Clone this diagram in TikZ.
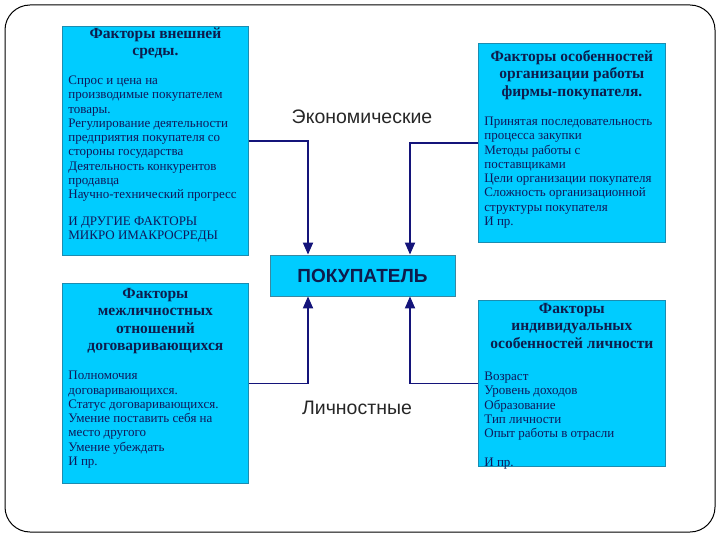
\documentclass[tikz,border=0pt]{standalone}
\usepackage{fontspec}
\setmainfont{Liberation Serif}
\newfontfamily\arialf{Liberation Sans}
\usetikzlibrary{arrows.meta}
\definecolor{boxfill}{HTML}{00CCFF}
\definecolor{boxline}{HTML}{1C8CB0}
\definecolor{txtc}{HTML}{0E1C4C}
\definecolor{bodyc}{HTML}{10185A}
\definecolor{arrc}{HTML}{14147A}
\newcommand{\titlef}{\fontsize{15.5}{17.4}\selectfont\bfseries}
\newcommand{\bodyf}{\fontsize{13}{14.25}\selectfont\mdseries\color{bodyc}}
\newcommand{\factbox}[5]{\parbox[t][#2][t]{#1}{\vspace*{#5}\centering\titlef #3\par\vspace{15pt}\raggedright\bodyf #4\par}}
\tikzset{
  factor/.style={draw=boxline, line width=0.8pt, fill=boxfill, text=txtc, anchor=north west, inner xsep=6pt, inner ysep=3pt},
  buyerbox/.style={draw=boxline!70!gray, line width=0.8pt, fill=boxfill, text=txtc, minimum width=185pt, minimum height=41pt, inner sep=0pt, font=\arialf\bfseries\fontsize{19}{22}\selectfont},
  lbl/.style={font=\arialf\fontsize{19.5}{22}\selectfont, text=black!85},
  arr/.style={draw=arrc, line width=1.8pt, -{Triangle[length=12pt,width=10pt]}}
}
\begin{document}
\begin{tikzpicture}[x=1pt,y=-1pt]
\useasboundingbox (0,0) rectangle (720,540);
\draw[black, line width=1pt, rounded corners=25pt] (5,5) rectangle (715,532);

\node[factor] (b1) at (62,26) {\factbox{174pt}{223pt}{Факторы внешней\\среды.}{Спрос и цена на\\производимые покупателем\\товары.\\Регулирование деятельности\\предприятия покупателя со\\стороны государства\\Деятельность конкурентов\\продавца\\Научно-технический прогресс\\[12.5pt]И ДРУГИЕ ФАКТОРЫ\\МИКРО ИМАКРОСРЕДЫ}{-2pt}};

\node[factor] (b2) at (478,43) {\factbox{175pt}{193pt}{Факторы особенностей\\организации работы\\фирмы-покупателя.}{Принятая последовательность\\процесса закупки\\Методы работы с\\поставщиками\\Цели организации покупателя\\Сложность организационной\\структуры покупателя\\И пр.}{4pt}};

\node[factor] (b3) at (62,283) {\factbox{174pt}{194pt}{Факторы\\межличностных\\отношений\\договаривающихся}{Полномочия\\договаривающихся.\\Статус договаривающихся.\\Умение поставить себя на\\место другого\\Умение убеждать\\И пр.}{2pt}};

\node[factor] (b4) at (478,300) {\factbox{175pt}{160pt}{Факторы\\индивидуальных\\особенностей личности}{\vspace*{3pt}Возраст\\Уровень доходов\\Образование\\Тип личности\\Опыт работы в отрасли\\[14.25pt]И пр.}{0pt}};

\node[buyerbox] (buyer) at (362.5,275.5) {ПОКУПАТЕЛЬ};

\node[lbl] (econ) at (362,117) {Экономические};
\node[lbl] (pers) at (357,408) {Личностные};

\coordinate (inL) at (308,0);
\coordinate (inR) at (410,0);
\draw[arr] (b1.east) -| (inL |- buyer.north);
\draw[arr] (b2.west) -| (inR |- buyer.north);
\draw[arr] (b3.east) -| (inL |- buyer.south);
\draw[arr] (b4.west) -| (inR |- buyer.south);
\end{tikzpicture}
\end{document}
